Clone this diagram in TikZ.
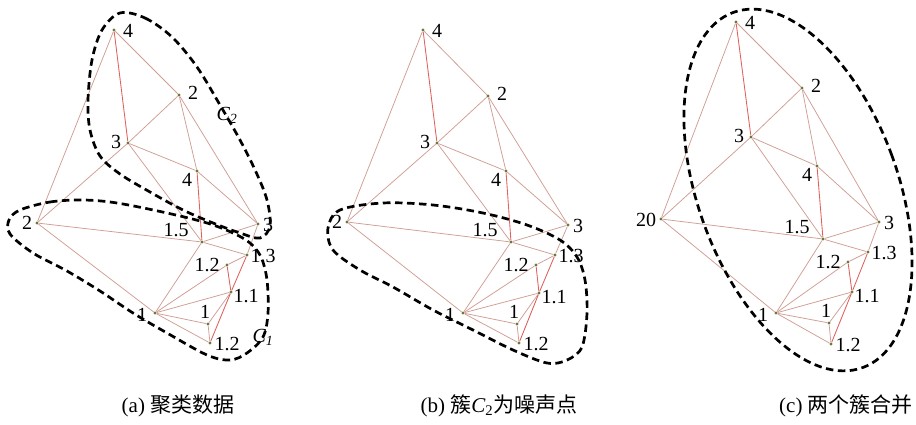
\documentclass[tikz,border=0pt]{standalone}
\usepackage{fontspec}
\setmainfont{Liberation Serif}
\newfontfamily\cjk{Noto Sans CJK SC}
\usetikzlibrary{calc}
\definecolor{edgecol}{RGB}{208,158,148}
\definecolor{redcol}{RGB}{224,96,92}
\definecolor{dotcol}{RGB}{108,120,58}
\tikzset{
  edge/.style={draw=edgecol, line width=0.75pt},
  rededge/.style={draw=redcol, line width=0.85pt},
  pt/.style={circle, fill=dotcol, inner sep=0pt, minimum size=3.2pt},
  lbl/.style={font=\fontsize{20}{20}\selectfont, inner sep=0.5pt},
  clus/.style={draw=black, line width=2.7pt, dash pattern=on 7.5pt off 4.5pt},
  captxt/.style={font=\fontsize{21}{21}\selectfont, inner sep=0pt},
}
\newcommand\mygraph[1]{%
  \foreach \u/\v in {A/B,A/E,B/C,B/D,B/G,C/D,C/E,C/F,D/G,E/F,E/K,F/G,F/H,F/K,G/H,H/I,K/I,K/J,K/L,K/M,L/J,L/M}{\draw[edge] (#1\u) -- (#1\v);}
  \foreach \u/\v in {A/C,D/F,I/J,H/J,J/M}{\draw[rededge] (#1\u) -- (#1\v);}
}
\newcommand\mylabels[2]{%
  \node[lbl] (#1Al) at ($(#1A)+(14,1)$) {4};
  \node[lbl] (#1Bl) at ($(#1B)+(14,-2)$) {2};
  \node[lbl] (#1Cl) at ($(#1C)+(-12,-1)$) {3};
  \node[lbl] (#1Dl) at ($(#1D)+(-10,9)$) {4};
  \node[lbl] (#1El) at #2;
  \node[lbl] (#1Fl) at ($(#1F)+(-26,-12)$) {1.5};
  \node[lbl] (#1Gl) at ($(#1G)+(10,1)$) {3};
  \node[lbl] (#1Hl) at ($(#1H)+(16,1)$) {1.3};
  \node[lbl] (#1Il) at ($(#1I)+(-20,0)$) {1.2};
  \node[lbl] (#1Jl) at ($(#1J)+(15,4)$) {1.1};
  \node[lbl] (#1Kl) at ($(#1K)+(-13,2)$) {1};
  \node[lbl] (#1Ll) at ($(#1L)+(-3,-12)$) {1};
  \node[lbl] (#1Ml) at ($(#1M)+(17,1)$) {1.2};
}
\begin{document}
\begin{tikzpicture}[x=1pt,y=-1pt]
\useasboundingbox[fill=white] (0,0) rectangle (916,425);

% ---------- panel (a)
\node[pt] (aA) at (114,30) {};
\node[pt] (aB) at (179,95) {};
\node[pt] (aC) at (128,143) {};
\node[pt] (aD) at (197,171) {};
\node[pt] (aE) at (37,223) {};
\node[pt] (aF) at (202,242) {};
\node[pt] (aG) at (258,224) {};
\node[pt] (aH) at (247,255) {};
\node[pt] (aI) at (227,265) {};
\node[pt] (aJ) at (231,292) {};
\node[pt] (aK) at (155,313) {};
\node[pt] (aL) at (208,324) {};
\node[pt] (aM) at (210,343) {};
\mygraph{a}
\mylabels{a}{($(aE)+(-10,0)$) {2}}
\draw[clus] plot[smooth cycle, tension=0.55] coordinates {(120,13) (145,18) (172,37) (197,67) (220,105) (240,140) (256,172) (267,200) (270,226) (260,238) (240,233) (213,223) (183,210) (150,192) (120,174) (100,156) (90,130) (88,100) (92,60) (102,30)};
\draw[clus] plot[smooth cycle, tension=0.55] coordinates {(20,210) (50,202) (83,200) (117,203) (167,213) (207,223) (233,233) (250,243) (261,257) (267,280) (268,313) (263,337) (247,353) (230,360) (207,355) (167,333) (133,313) (100,291) (67,271) (33,253) (10,234) (9,220)};
\node[lbl] (aC2) at (227,115) {\itshape C\textsubscript{2}};
\node[lbl] (aC1) at (263,337) {\itshape C\textsubscript{1}};
\node[captxt] (capa) at (178,406) {(a) {\cjk 聚类数据}};

% ---------- panel (b)
\node[pt] (bA) at (423,30) {};
\node[pt] (bB) at (488,96) {};
\node[pt] (bC) at (437,143) {};
\node[pt] (bD) at (506,171) {};
\node[pt] (bE) at (347,222) {};
\node[pt] (bF) at (511,242) {};
\node[pt] (bG) at (568,225) {};
\node[pt] (bH) at (555,255) {};
\node[pt] (bI) at (536,265) {};
\node[pt] (bJ) at (539,293) {};
\node[pt] (bK) at (463,313) {};
\node[pt] (bL) at (517,324) {};
\node[pt] (bM) at (519,343) {};
\mygraph{b}
\mylabels{b}{($(bE)+(-10,0)$) {2}}
\draw[clus] plot[smooth cycle, tension=0.55] coordinates {(340,210) (383,203) (433,205) (483,213) (527,225) (560,240) (577,257) (585,280) (587,313) (582,347) (567,360) (547,363) (513,350) (473,330) (433,310) (393,287) (360,270) (333,250) (328,228)};
\node[captxt] (capb) at (499,406) {(b) {\cjk 簇}{\itshape C}\textsubscript{2}{\cjk 为噪声点}};

% ---------- panel (c)
\node[pt] (cA) at (736,22) {};
\node[pt] (cB) at (802,88) {};
\node[pt] (cC) at (751,137) {};
\node[pt] (cD) at (817,166) {};
\node[pt] (cE) at (661,219) {};
\node[pt] (cF) at (823,239) {};
\node[pt] (cG) at (879,222) {};
\node[pt] (cH) at (868,252) {};
\node[pt] (cI) at (848,262) {};
\node[pt] (cJ) at (852,292) {};
\node[pt] (cK) at (776,313) {};
\node[pt] (cL) at (829,323) {};
\node[pt] (cM) at (831,344) {};
\mygraph{c}
\mylabels{c}{($(cE)+(-15,1)$) {20}}
\draw[clus, rotate around={20:(798,190)}] (798,190) ellipse [x radius=100pt, y radius=189pt];
\node[captxt] (capc) at (846,406) {(c) {\cjk 两个簇合并}};
\end{tikzpicture}
\end{document}
